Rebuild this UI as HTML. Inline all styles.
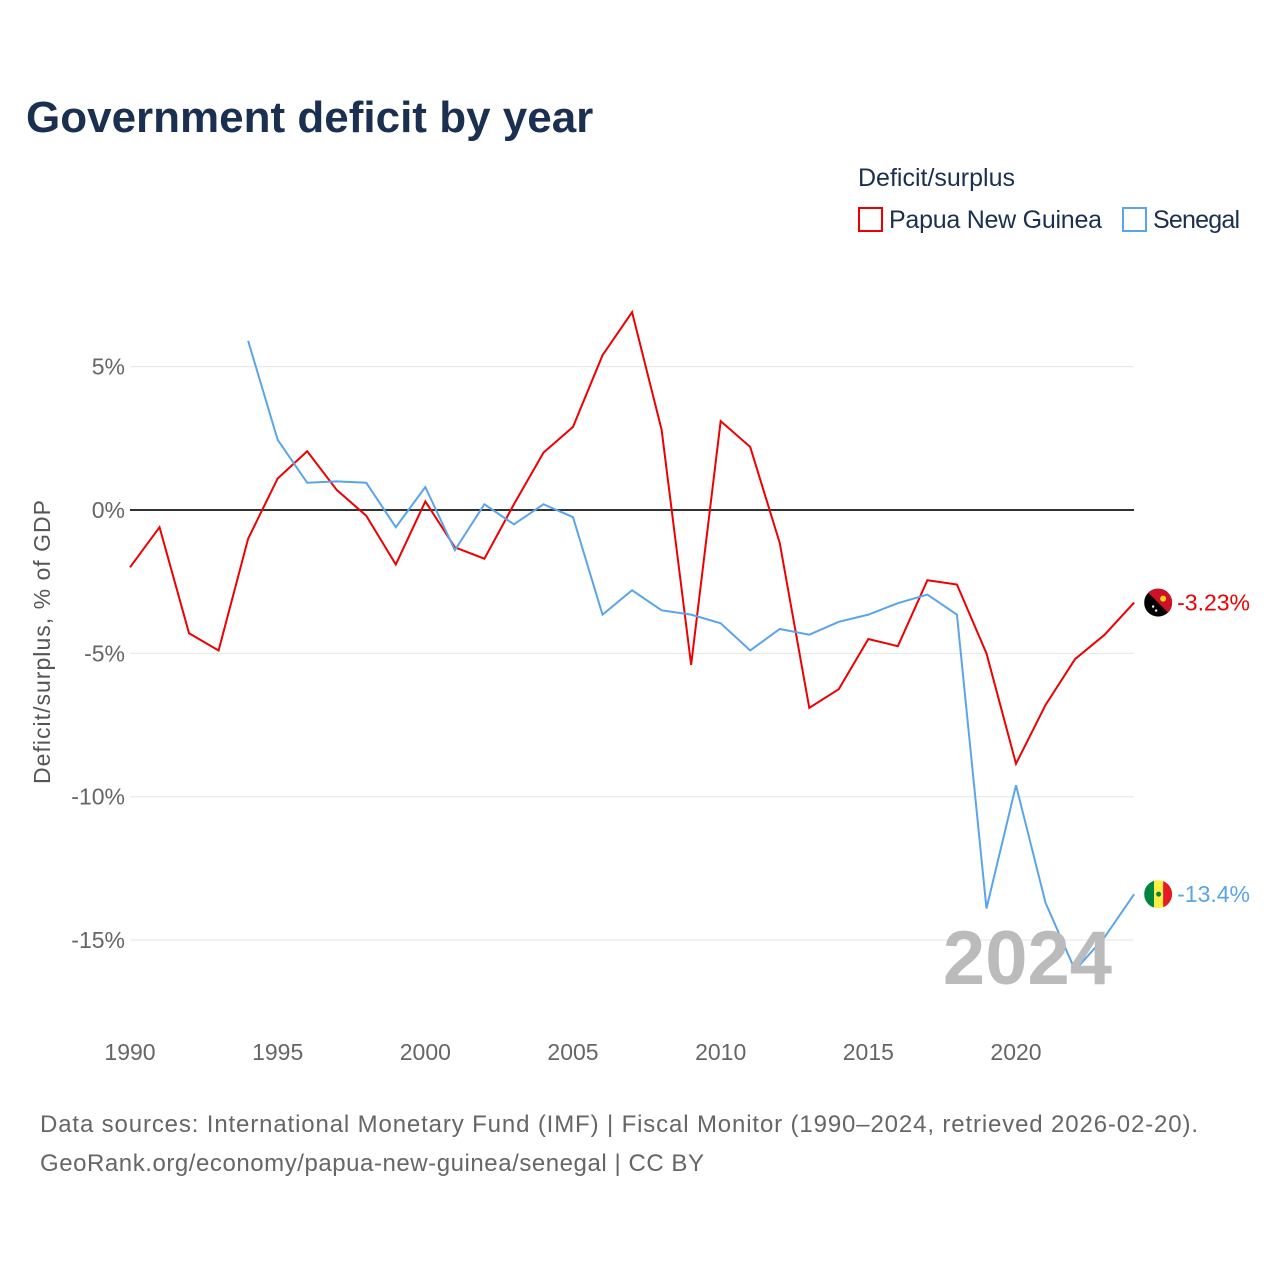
<!DOCTYPE html>
<html><head><meta charset="utf-8"><style>
body{margin:0;background:#fff;font-family:"Liberation Sans",sans-serif;}
svg text{font-family:"Liberation Sans",sans-serif;}
</style></head><body>
<svg id="chart" width="1280" height="1280" xmlns="http://www.w3.org/2000/svg">
<rect width="1280" height="1280" fill="#fff"/>
<defs>
<clipPath id="c1"><circle cx="0" cy="0" r="14"/></clipPath>
</defs>
<text x="26" y="132" font-size="44" font-weight="bold" fill="#1b3050">Government deficit by year</text>
<text x="858" y="186" font-size="25" fill="#1b3050">Deficit/surplus</text>
<g><rect x="859" y="208" width="23" height="23" fill="none" stroke="#ee0000" stroke-width="2"/><text x="889" y="228" font-size="25" fill="#1b3050" textLength="213">Papua New Guinea</text></g>
<g><rect x="1123" y="208" width="23" height="23" fill="none" stroke="#5aa5ea" stroke-width="2"/><text x="1153" y="228" font-size="25" fill="#1b3050" textLength="87">Senegal</text></g>
<text transform="translate(50,642) rotate(-90)" text-anchor="middle" font-size="23" fill="#555" textLength="284">Deficit/surplus, % of GDP</text>
<g id="grid"></g><g id="series"></g>
<text x="1112" y="984" text-anchor="end" font-size="76" font-weight="bold" fill="#bbb">2024</text>
<text x="40" y="1132" font-size="24" fill="#666" textLength="1158">Data sources: International Monetary Fund (IMF) | Fiscal Monitor (1990–2024, retrieved 2026-02-20).</text>
<text x="40" y="1171" font-size="24" fill="#666" textLength="664">GeoRank.org/economy/papua-new-guinea/senegal | CC BY</text>
</svg>
<script>
const years=[];for(let y=1990;y<=2024;y++)years.push(y);
const pngValues=[-2.0,-0.6,-4.3,-4.9,-1.0,1.1,2.05,0.7,-0.2,-1.9,0.3,-1.3,-1.7,0.2,2.0,2.9,5.4,6.9,2.8,-5.4,3.1,2.2,-1.15,-6.9,-6.25,-4.5,-4.75,-2.45,-2.6,-5.0,-8.85,-6.8,-5.2,-4.35,-3.23];
const senValues=[null,null,null,null,5.9,2.45,0.95,1.0,0.95,-0.6,0.8,-1.4,0.2,-0.5,0.2,-0.25,-3.65,-2.8,-3.5,-3.65,-3.95,-4.9,-4.15,-4.35,-3.9,-3.65,-3.25,-2.95,-3.65,-13.9,-9.6,-13.7,-16.05,-14.9,-13.4];
const yTicks=[5,0,-5,-10,-15];
const xTicks=[1990,1995,2000,2005,2010,2015,2020];
const NS="http://www.w3.org/2000/svg";
const xs=y=>130+(y-1990)*(1016-130)/30;
const ys=v=>510-v*28.67;
function mk(t,a,p){const e=document.createElementNS(NS,t);for(const k in a)e.setAttribute(k,a[k]);p.appendChild(e);return e;}
const grid=document.getElementById('grid'),ser=document.getElementById('series');
yTicks.forEach(v=>{
 const l=mk('line',{x1:130,x2:1134,y1:ys(v),y2:ys(v),stroke:v===0?'#333':'#e6e6e6','stroke-width':v===0?2:1},grid);
 
 
 const t=mk('text',{x:125,y:ys(v)+8,'text-anchor':'end','font-size':23,fill:'#666'},grid);
 t.textContent=v+'%';
 
 
});
xTicks.forEach(y=>{
 const t=mk('text',{x:xs(y),y:1060,'text-anchor':'middle','font-size':23,fill:'#666'},grid);
 t.textContent=y;
 
 
});
function line(vals,col,name,label,flag){
 let d='';vals.forEach((v,i)=>{if(v==null)return;d+=(d?'L':'M')+xs(years[i])+','+ys(v);});
 const p=mk('path',{d:d,fill:'none',stroke:col,'stroke-width':2},ser);
 
 
 const last=vals[vals.length-1];
 const g=mk('g',{transform:'translate('+(xs(2024)+24)+','+ys(last)+')','clip-path':'url(#c1)'},ser);
 
 
 if(flag==='png'){
  mk('rect',{x:-14,y:-14,width:28,height:28,fill:'#000'},g);
  mk('path',{d:'M-14,-14L14,-14L14,14Z',fill:'#ce1126'},g);
  mk('circle',{cx:5,cy:-4,r:3,fill:'#fcd116'},g);
  mk('circle',{cx:-5,cy:4,r:1.2,fill:'#fff'},g);
  mk('circle',{cx:-2,cy:8,r:1.2,fill:'#fff'},g);
 } else {
  mk('rect',{x:-14,y:-14,width:10,height:28,fill:'#00853f'},g);
  mk('rect',{x:-4,y:-14,width:9,height:28,fill:'#fdef42'},g);
  mk('rect',{x:5,y:-14,width:9,height:28,fill:'#e31b23'},g);
  mk('circle',{cx:0.5,cy:0,r:2.5,fill:'#00853f'},g);
 }
 const t=mk('text',{x:xs(2024)+43,y:ys(last)+8,'font-size':23,fill:col},ser);
 t.textContent=label;
 
 
}
line(pngValues,'#ee0000','png-line','-3.23%','png');
line(senValues,'#5aa5ea','senegal-line','-13.4%','sen');
</script>
</body></html>
